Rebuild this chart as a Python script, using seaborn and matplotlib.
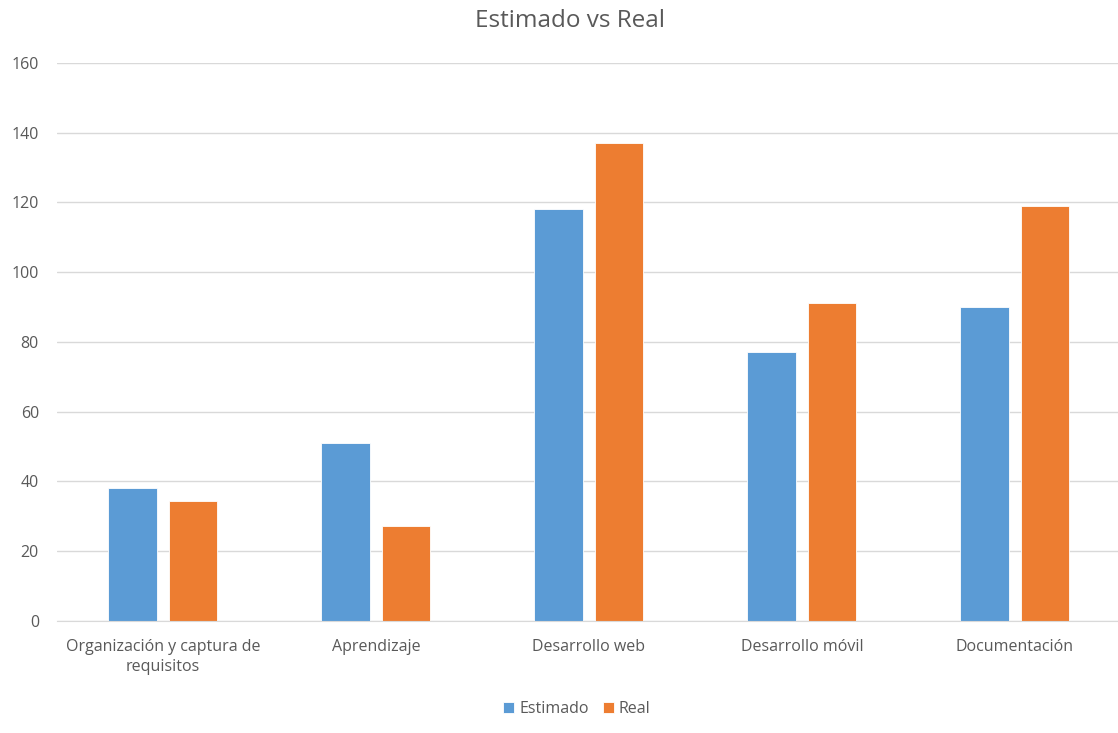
import pandas as pd
import seaborn as sns
import matplotlib.pyplot as plt

# datos
categorias = ['Organización y captura de\nrequisitos', 'Aprendizaje', 'Desarrollo web',
              'Desarrollo móvil', 'Documentación']
estimado = [38, 51, 118, 77, 90]
real = [34.4, 27.3, 137, 91.3, 119]
series = ['Estimado', 'Real']
colores = ['#5B9BD5', '#ED7D31']

df = pd.DataFrame({
    'categoria': categorias * 2,
    'serie': ['Estimado'] * len(categorias) + ['Real'] * len(categorias),
    'valor': estimado + real,
})

sns.set_style('white')
plt.rcParams['font.family'] = ['Open Sans', 'DejaVu Sans']

fig = plt.figure(figsize=(11.18, 7.33), dpi=100)
ax = fig.add_axes([0.051, 0.153, 0.949, 0.761])

sns.barplot(data=df, x='categoria', y='valor', hue='serie', hue_order=series,
            palette=colores, width=0.568, gap=0.2, ax=ax, saturation=1,
            edgecolor='white', linewidth=0.6)

ax.set_ylim(0, 160)
ax.set_yticks(range(0, 161, 20))
ax.set_xlim(-0.497, 4.484)
ax.yaxis.grid(True, color='#D9D9D9', linewidth=1)
ax.set_axisbelow(True)
for s in ['top', 'right', 'left']:
    ax.spines[s].set_visible(False)
ax.spines['bottom'].set_color('#D9D9D9')
ax.tick_params(axis='both', length=0, colors='#595959', labelsize=11.5)
ax.tick_params(axis='y', pad=13)
ax.tick_params(axis='x', pad=13)
for t in ax.get_xticklabels():
    t.set_linespacing(1.3)
ax.set_xlabel('')
ax.set_ylabel('')
fig.text(0.51, 0.972, 'Estimado vs Real', fontsize=17.5, color='#595959',
         ha='center', va='center')

ax.legend(loc='center', bbox_to_anchor=(0.49, -0.158), ncol=2, frameon=False,
          fontsize=11.5, labelcolor='#595959', handlelength=0.7, handleheight=0.7,
          handletextpad=0.3, columnspacing=0.9)

fig.savefig('out.png', dpi=100)
